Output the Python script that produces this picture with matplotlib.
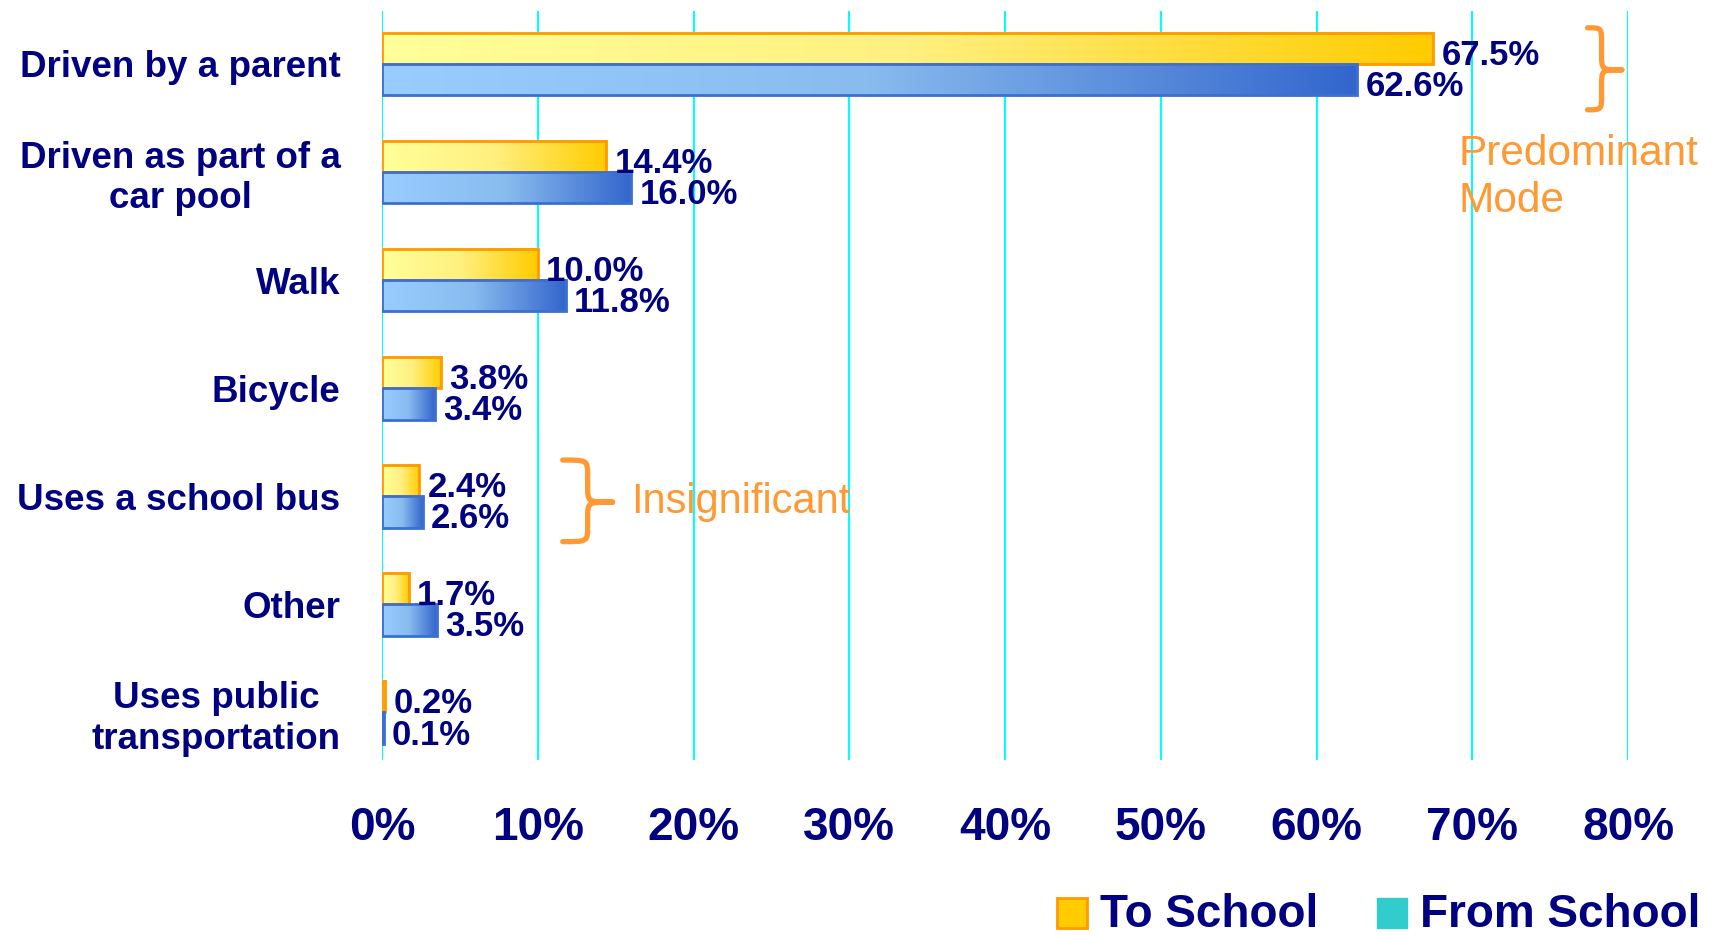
import numpy as np
import matplotlib
matplotlib.use('Agg')
import matplotlib.pyplot as plt
from matplotlib.colors import LinearSegmentedColormap
from matplotlib.path import Path
from matplotlib.patches import PathPatch, Rectangle

# data
categories = ['Driven by a parent', 'Driven as part of a\ncar pool', 'Walk', 'Bicycle',
              'Uses a school bus', 'Other', 'Uses public\ntransportation']
to_school = [67.5, 14.4, 10.0, 3.8, 2.4, 1.7, 0.2]
from_school = [62.6, 16.0, 11.8, 3.4, 2.6, 3.5, 0.1]
xticks = [0, 10, 20, 30, 40, 50, 60, 70, 80]
xticklabels = ['0%', '10%', '20%', '30%', '40%', '50%', '60%', '70%', '80%']

NAVY = '#000080'
NOTE = '#FF9933'

plt.rcParams['font.family'] = ['Liberation Sans', 'DejaVu Sans']
plt.rcParams['font.weight'] = 'bold'

fig = plt.figure(figsize=(17.21, 9.35), dpi=100)
ax = fig.add_axes([0.222, 0.1872, 0.724, 0.801])

y = np.arange(len(categories))
h = 0.29
bars_to = ax.barh(y - h / 2, to_school, height=h, facecolor='none',
                  edgecolor='#FF9900', linewidth=2, zorder=3)
bars_from = ax.barh(y + h / 2, from_school, height=h, facecolor='none',
                    edgecolor='#3B6FD0', linewidth=2, zorder=3)

# gradient fill, light on the left, dark on the right of each bar
grad = np.linspace(0, 1, 256).reshape(1, -1)
cm_to = LinearSegmentedColormap.from_list('to', ['#FFFF99', '#FFF080', '#FFCC00'])
cm_from = LinearSegmentedColormap.from_list('from', ['#99CCFF', '#88BBEE', '#3366CC'])
for bars, cm in ((bars_to, cm_to), (bars_from, cm_from)):
    for r in bars:
        x0, y0 = r.get_x(), r.get_y()
        ax.imshow(grad, cmap=cm, aspect='auto', zorder=2, interpolation='bilinear',
                  extent=[x0, x0 + r.get_width(), y0 + r.get_height(), y0])

for bars, vals in ((bars_to, to_school), (bars_from, from_school)):
    for r, v in zip(bars, vals):
        ax.annotate(f'{v:.1f}%', (r.get_width(), r.get_y() + r.get_height() / 2),
                    xytext=(6, -5), textcoords='offset points', va='center', ha='left',
                    fontsize=25, color=NAVY, zorder=4)

ax.set_xlim(0, 80)
ax.set_ylim(6.44, -0.49)
ax.set_xticks(xticks)
ax.set_xticklabels(xticklabels, fontsize=33, color=NAVY)
ax.set_yticks(y)
ax.set_yticklabels(categories, fontsize=26.5, color=NAVY, multialignment='center')
ax.tick_params(axis='x', length=0, pad=33)
ax.tick_params(axis='y', length=0, pad=30)
ax.grid(axis='x', color='#00FFFF', linewidth=1.5)
ax.set_axisbelow(True)
for s in ax.spines.values():
    s.set_visible(False)


def brace(x_left, x_stem, x_tip, y_top, y_mid, y_bot, r):
    verts = [(x_left, y_top), (x_stem, y_top), (x_stem, y_top), (x_stem, y_top + r),
             (x_stem, y_mid - r),
             (x_stem, y_mid), (x_stem, y_mid), (x_tip, y_mid),
             (x_stem, y_mid), (x_stem, y_mid), (x_stem, y_mid + r),
             (x_stem, y_bot - r),
             (x_stem, y_bot), (x_stem, y_bot), (x_left, y_bot)]
    codes = [Path.MOVETO, Path.CURVE4, Path.CURVE4, Path.CURVE4, Path.LINETO,
             Path.CURVE4, Path.CURVE4, Path.CURVE4, Path.CURVE4, Path.CURVE4, Path.CURVE4,
             Path.LINETO, Path.CURVE4, Path.CURVE4, Path.CURVE4]
    ax.add_patch(PathPatch(Path(verts, codes), facecolor='none', edgecolor=NOTE,
                           linewidth=3.8, capstyle='round', joinstyle='round',
                           clip_on=False, zorder=5))


brace(77.4, 78.3, 79.6, -0.335, 0.054, 0.424, 0.14)
brace(11.6, 13.2, 14.8, 3.665, 4.054, 4.42, 0.14)

ax.text(69.1, 1.366, 'Predominant\nMode', fontsize=30.5, fontweight='normal',
        color=NOTE, va='baseline', ha='left', zorder=5)
ax.text(16.0, 4.153, 'Insignificant', fontsize=30, fontweight='normal',
        color=NOTE, va='baseline', ha='left', zorder=5)

# legend
fig.add_artist(Rectangle((0.6142, 0.0075), 0.0174, 0.0321, transform=fig.transFigure,
                         facecolor='#FFCC00', edgecolor='#FF9900', linewidth=2))
fig.add_artist(Rectangle((0.8001, 0.0075), 0.0174, 0.0321, transform=fig.transFigure,
                         facecolor='#33CCCC', edgecolor='#33CCCC', linewidth=1))
fig.text(0.6392, 0.0085, 'To School', fontsize=33, color=NAVY, va='baseline')
fig.text(0.8251, 0.0085, 'From School', fontsize=33, color=NAVY, va='baseline')

fig.savefig('out.png', dpi=100)
